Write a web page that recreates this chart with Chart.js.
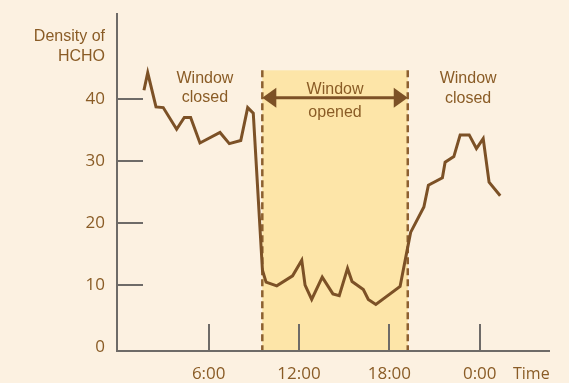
<!DOCTYPE html>
<html>
<head>
<meta charset="utf-8">
<script src="https://cdn.jsdelivr.net/npm/chart.js@4.4.0/dist/chart.umd.min.js"></script>
<style>
  html, body { margin: 0; padding: 0; background: #fcf1e1; }
  #chart { display: block; }
</style>
</head>
<body>
<canvas id="chart" width="569" height="383"></canvas>
<script>
// HCHO density over a day, hours from midnight
const hours = [1.70, 1.95, 2.50, 2.98, 3.87, 4.38, 4.80, 5.42, 6.75, 7.37,
  8.13, 8.59, 8.96, 9.57, 9.81, 10.52, 11.57, 12.18, 12.40, 12.84,
  13.54, 14.25, 14.67, 15.22, 15.52, 16.27, 16.60, 17.10, 18.71, 19.16,
  19.41, 20.29, 20.59, 21.52, 21.70, 22.28, 22.70, 23.30, 23.78, 24.23,
  24.62, 25.36];
const density = [41.4, 44.2, 38.7, 38.6, 35.1, 37.0, 37.0, 32.9, 34.6, 32.8,
  33.3, 38.6, 37.7, 12.4, 10.5, 9.9, 11.5, 14.0, 10.0, 7.7,
  11.3, 8.6, 8.3, 12.7, 10.6, 9.3, 7.7, 6.9, 9.8, 15.4,
  18.5, 22.6, 26.1, 27.3, 29.8, 30.7, 34.2, 34.2, 32.0, 33.6,
  26.6, 24.4];

const xTickHours = [6, 12, 18, 24];
const xTickLabels = ['6:00', '12:00', '18:00', '0:00'];
const yTickValues = [0, 10, 20, 30, 40];

// window opened between these hours, shaded up to this density
const windowOpen = [9.56, 19.22];
const windowTop = 44.6;
const arrowLevel = 40.2;

const brown = '#7c5126';
const textBrown = '#8a5c26';
const axisGray = '#6e6b68';

const annotations = {
    id: 'annotations',
    beforeDraw(chart) {
        const ctx = chart.ctx;
        const x = chart.scales.x, y = chart.scales.y;
        const x0 = x.getPixelForValue(windowOpen[0]);
        const x1 = x.getPixelForValue(windowOpen[1]);
        const top = y.getPixelForValue(windowTop);
        const bottom = chart.chartArea.bottom;
        ctx.save();
        ctx.fillStyle = '#fde5a8';
        ctx.fillRect(x0, top, x1 - x0, bottom - top);
        ctx.strokeStyle = '#8d6030';
        ctx.lineWidth = 2.5;
        ctx.setLineDash([7, 4]);
        [x0, x1].forEach(function(px) {
            ctx.beginPath();
            ctx.moveTo(px, top);
            ctx.lineTo(px, bottom);
            ctx.stroke();
        });
        ctx.restore();
    },
    afterDraw(chart) {
        const ctx = chart.ctx;
        const x = chart.scales.x, y = chart.scales.y;
        const area = chart.chartArea;
        ctx.save();

        // inward tick marks
        ctx.strokeStyle = axisGray;
        ctx.lineWidth = 2;
        xTickHours.forEach(function(h) {
            const px = Math.round(x.getPixelForValue(h));
            ctx.beginPath();
            ctx.moveTo(px, area.bottom);
            ctx.lineTo(px, area.bottom - 27);
            ctx.stroke();
        });
        yTickValues.slice(1).forEach(function(v) {
            const py = Math.round(y.getPixelForValue(v));
            ctx.beginPath();
            ctx.moveTo(area.left, py);
            ctx.lineTo(area.left + 26, py);
            ctx.stroke();
        });

        // arrow across the open window
        const x0 = x.getPixelForValue(windowOpen[0]);
        const x1 = x.getPixelForValue(windowOpen[1]);
        const ay = y.getPixelForValue(arrowLevel);
        ctx.strokeStyle = brown;
        ctx.fillStyle = brown;
        ctx.lineWidth = 3;
        ctx.beginPath();
        ctx.moveTo(x0 + 8, ay);
        ctx.lineTo(x1 - 8, ay);
        ctx.stroke();
        ctx.beginPath();
        ctx.moveTo(x0, ay);
        ctx.lineTo(x0 + 14, ay - 10);
        ctx.lineTo(x0 + 14, ay + 10);
        ctx.closePath();
        ctx.fill();
        ctx.beginPath();
        ctx.moveTo(x1, ay);
        ctx.lineTo(x1 - 14, ay - 10);
        ctx.lineTo(x1 - 14, ay + 10);
        ctx.closePath();
        ctx.fill();

        // labels
        ctx.fillStyle = textBrown;
        ctx.font = '16px "Liberation Sans", Arial, sans-serif';
        ctx.textAlign = 'center';
        ctx.textBaseline = 'alphabetic';
        const notes = [
            [5.75, 42.5, 'Window'], [5.75, 39.5, 'closed'],
            [14.39, 40.8, 'Window'], [14.39, 37.1, 'opened'],
            [23.23, 42.6, 'Window'], [23.23, 39.4, 'closed']
        ];
        notes.forEach(function(n) {
            ctx.fillText(n[2], x.getPixelForValue(n[0]), y.getPixelForValue(n[1]));
        });

        ctx.textAlign = 'right';
        ctx.fillText('Density of', 105, 41);
        ctx.fillText('HCHO', 105, 61);

        ctx.font = '16px "Open Sans", sans-serif';
        ctx.textAlign = 'left';
        ctx.fillText('Time', 513, 379);
        ctx.restore();
    }
};

const ctx = document.getElementById('chart').getContext('2d');
new Chart(ctx, {
    type: 'line',
    data: {
        datasets: [{
            data: hours.map(function(h, i) { return { x: h, y: density[i] }; }),
            borderColor: brown,
            borderWidth: 3,
            pointRadius: 0,
            tension: 0,
            fill: false
        }]
    },
    options: {
        responsive: false,
        animation: false,
        devicePixelRatio: 1,
        layout: { padding: { left: 0, right: 20, top: 14, bottom: 0 } },
        plugins: {
            legend: { display: false },
            tooltip: { enabled: false }
        },
        scales: {
            x: {
                type: 'linear',
                min: -0.09,
                max: 28.6,
                afterFit: function(scale) {
                    scale.height = 32;
                    scale.paddingLeft = 0;
                    scale.paddingRight = 0;
                },
                afterBuildTicks: function(scale) {
                    scale.ticks = xTickHours.map(function(v) { return { value: v }; });
                },
                grid: { display: false, drawTicks: false },
                border: { display: true, color: axisGray, width: 2 },
                ticks: {
                    padding: 13,
                    color: textBrown,
                    font: { family: 'Open Sans', size: 17 },
                    maxRotation: 0,
                    callback: function(value) {
                        return xTickLabels[xTickHours.indexOf(value)];
                    }
                }
            },
            y: {
                min: -0.6,
                max: 53.67,
                afterFit: function(scale) {
                    scale.width = 117;
                    scale.paddingTop = 0;
                    scale.paddingBottom = 0;
                },
                afterBuildTicks: function(scale) {
                    scale.ticks = yTickValues.map(function(v) { return { value: v }; });
                },
                grid: { display: false, drawTicks: false },
                border: { display: true, color: axisGray, width: 2 },
                ticks: {
                    padding: 12,
                    color: textBrown,
                    font: { family: 'Open Sans', size: 17 }
                }
            }
        }
    },
    plugins: [annotations]
});
</script>
</body>
</html>
